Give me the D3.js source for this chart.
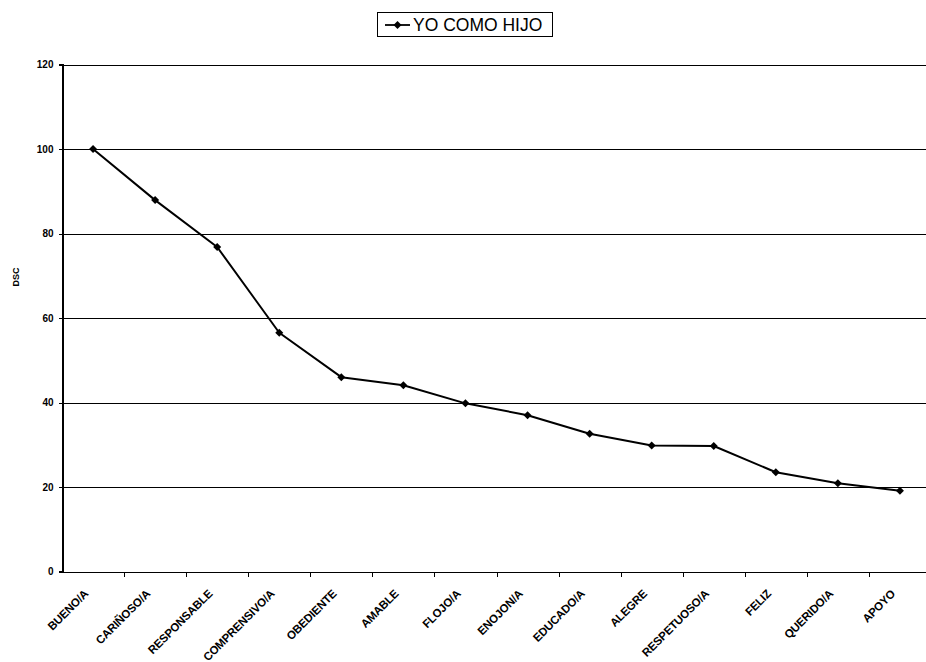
<!DOCTYPE html>
<html>
<head>
<meta charset="utf-8">
<script src="https://cdn.jsdelivr.net/npm/d3@7"></script>
<style>
  html, body { margin: 0; padding: 0; background: #fff; }
  svg { display: block; font-family: "Liberation Sans", Arial, sans-serif; }
</style>
</head>
<body>
<svg id="chart" width="926" height="662"></svg>
<script>
// Adjectives describing oneself as a child, with their DSC scores
const categories = ["BUENO/A", "CARIÑOSO/A", "RESPONSABLE", "COMPRENSIVO/A", "OBEDIENTE",
  "AMABLE", "FLOJO/A", "ENOJON/A", "EDUCADO/A", "ALEGRE", "RESPETUOSO/A", "FELIZ",
  "QUERIDO/A", "APOYO"];
const dscValues = [100, 87.9, 76.8, 56.5, 46.0, 44.1, 39.8, 37.0, 32.6, 29.8, 29.7, 23.5, 20.9, 19.1];
const yTicks = [0, 20, 40, 60, 80, 100, 120];
const seriesName = "YO COMO HIJO";
const yTitle = "DSC";

const svg = d3.select("#chart");
const W = 926;
const plot = { left: 62, right: 931, top: 64.5, bottom: 571.5 };

const x = d3.scaleBand().domain(categories).range([plot.left, plot.right]).padding(0);
const y = d3.scaleLinear().domain([0, 120]).range([plot.bottom, plot.top]);
const cx = d => x(d) + x.bandwidth() / 2;
const crisp = v => Math.round(v) + 0.5;

// horizontal gridlines
svg.append("g")
  .selectAll("line")
  .data(yTicks.filter(t => t > 0))
  .join("line")
  .attr("x1", plot.left).attr("x2", W)
  .attr("y1", d => crisp(y(d))).attr("y2", d => crisp(y(d)))
  .attr("stroke", "#000").attr("stroke-width", 1)
  .attr("shape-rendering", "crispEdges");

// y axis
const yAxis = d3.axisLeft(y).tickValues(yTicks).tickSize(4).tickPadding(5).tickFormat(d3.format("d"));
const gy = svg.append("g").attr("transform", `translate(${plot.left + 0.5},0)`).call(yAxis);
gy.attr("shape-rendering", "crispEdges");
gy.select(".domain").attr("stroke", "#000").attr("stroke-width", 1.2);
gy.selectAll(".tick line").attr("stroke", "#000");
gy.selectAll(".tick text")
  .attr("font-size", 10).attr("font-weight", "bold").attr("fill", "#000")
  .attr("font-family", "Liberation Sans, Arial, sans-serif");

// x axis baseline with ticks between categories
svg.append("line")
  .attr("x1", plot.left).attr("x2", W)
  .attr("y1", crisp(y(0))).attr("y2", crisp(y(0)))
  .attr("stroke", "#000").attr("stroke-width", 1.2)
  .attr("shape-rendering", "crispEdges");
svg.append("g")
  .attr("shape-rendering", "crispEdges")
  .selectAll("line")
  .data(categories.slice(1))
  .join("line")
  .attr("x1", d => crisp(x(d))).attr("x2", d => crisp(x(d)))
  .attr("y1", crisp(y(0))).attr("y2", crisp(y(0)) + 4)
  .attr("stroke", "#000");

// category labels, slanted
svg.append("g")
  .selectAll("text")
  .data(categories)
  .join("text")
  .attr("transform", d => `translate(${cx(d) - 4},${y(0) + 23}) rotate(-45)`)
  .attr("text-anchor", "end")
  .attr("font-size", 11.5)
  .attr("font-weight", "bold")
  .attr("letter-spacing", -0.2)
  .attr("fill", "#000")
  .text(d => d);

// y title
svg.append("text")
  .attr("transform", `translate(19,277) rotate(-90)`)
  .attr("text-anchor", "middle")
  .attr("font-size", 9)
  .attr("font-weight", "bold")
  .text(yTitle);

// series line
const pts = categories.map((c, i) => [cx(c), y(dscValues[i])]);
svg.append("path")
  .attr("d", d3.line()(pts))
  .attr("fill", "none")
  .attr("stroke", "#000")
  .attr("stroke-width", 2)
  .attr("stroke-linejoin", "round");

const marker = d3.symbol().type(d3.symbolSquare).size(32);
svg.append("g")
  .selectAll("path")
  .data(pts)
  .join("path")
  .attr("transform", d => `translate(${d[0]},${d[1]}) rotate(45)`)
  .attr("d", marker)
  .attr("fill", "#000");

// legend
const lg = svg.append("g");
lg.append("rect")
  .attr("x", 377.5).attr("y", 12.5).attr("width", 175).attr("height", 24)
  .attr("fill", "#fff").attr("stroke", "#000").attr("stroke-width", 1);
lg.append("line")
  .attr("x1", 385).attr("x2", 410).attr("y1", 25).attr("y2", 25)
  .attr("stroke", "#000").attr("stroke-width", 1.8);
lg.append("path")
  .attr("transform", "translate(397.5,25) rotate(45)")
  .attr("d", marker)
  .attr("fill", "#000");
lg.append("text")
  .attr("x", 413).attr("y", 31)
  .attr("font-size", 17.5)
  .attr("fill", "#000")
  .text(seriesName);
</script>
</body>
</html>
